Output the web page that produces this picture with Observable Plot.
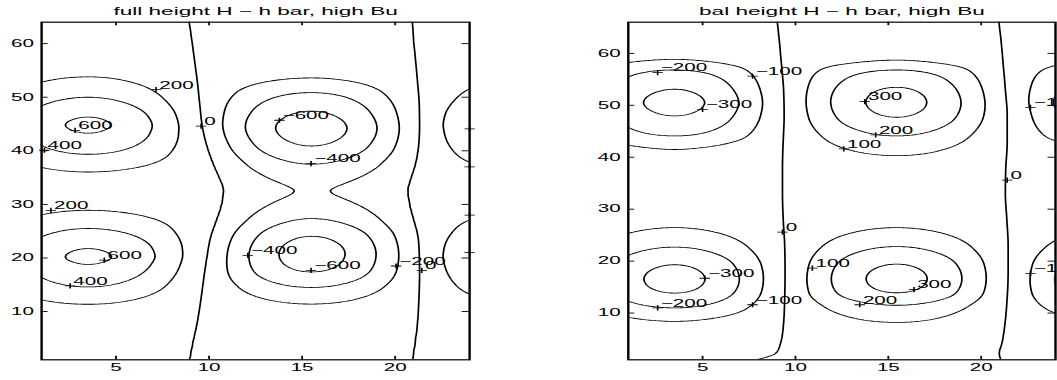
<!DOCTYPE html>
<html>
<head>
<meta charset="utf-8">
<title>H − h bar, high Bu</title>
<script src="https://cdn.jsdelivr.net/npm/d3@7"></script>
<script src="https://cdn.jsdelivr.net/npm/@observablehq/plot@0.6"></script>
<style>
  html, body { margin: 0; padding: 0; background: #fff; }
  #chart { display: flex; width: 1057px; height: 380px; overflow: hidden; background: #fff; }
  #chart svg { display: block; flex: none; }
</style>
</head>
<body>
<div id="chart"></div>
<script>
// ---------------- values ----------------
const xTicks = [5, 10, 15, 20];
const yTicks = [10, 20, 30, 40, 50, 60];

// Left panel: full height H - h bar
const fullTitle = "full height H − h bar, high Bu";
const fullLevels = [-600, -400, -200, 0, 200, 400, 600];
const fullWarmCentreX = 3.5;   // column through the positive centres
const fullColdCentreX = 15.5;  // column through the negative centres
// field along the warm column (y, value), from the contour crossings
const fullWarmY = [1, 8, 11.36, 14.6, 18.8, 20.2, 21.75, 25.5, 28.9, 32.4, 36.05, 39.35, 43.3, 44.8, 46.3, 50.0, 53.8, 58, 64];
const fullWarmV = [10, 65, 200, 400, 600, 630, 600, 400, 200, 110, 200, 400, 600, 630, 600, 400, 200, 70, 25];
// field along the cold column
const fullColdY = [1, 8, 11.4, 14.5, 17.4, 20.8, 24.05, 27.35, 32.5, 37.5, 40.9, 44.2, 47.4, 50.86, 53.6, 58, 64];
const fullColdV = [-40, -85, -200, -400, -600, -680, -600, -400, -210, -400, -600, -690, -600, -400, -200, -80, -45];
// the two zero contours (x position at each y)
const fullZeroY    = [1, 4, 8, 12, 17, 20, 24, 27, 29.5, 32.6, 35, 37, 39.5, 44.5, 48, 52, 56, 60, 64];
const fullZeroWest = [8.97, 9.13, 9.37, 9.55, 9.75, 9.88, 10.1, 10.4, 10.65, 10.79, 10.56, 10.3, 10.02, 9.64, 9.52, 9.4, 9.25, 9.1, 8.94];
const fullZeroEast = [20.91, 21.05, 21.2, 21.27, 21.31, 21.3, 21.22, 21.0, 20.8, 20.68, 20.85, 21.04, 21.2, 21.31, 21.3, 21.22, 21.12, 21.0, 20.91];
// contour labels (clabel "+" positions)
const fullLabelX = [7.15, 2.8, 1.15, 9.57, 13.78, 15.48, 1.5, 4.37, 2.53, 12.08, 15.48, 20.05, 21.43];
const fullLabelY = [51.4, 43.8, 40.1, 44.6, 45.7, 37.6, 28.9, 19.6, 14.8, 20.5, 17.7, 18.5, 17.7];
const fullLabelText = ["200", "600", "400", "0", "−600", "−400", "200", "600", "400", "−400", "−600", "−200", "0"];
const fullEdgeMarkX = [24, 24, 24, 24];
const fullEdgeMarkY = [44.1, 37.0, 28.0, 21.0];

// Right panel: bal height H - h bar
const balTitle = "bal height H − h bar, high Bu";
const balLevels = [-300, -200, -100, 0, 100, 200, 300];
const balColdCentreX = 3.5;    // negative centres
const balWarmCentreX = 15.45;  // positive centres
const balColdY = [1, 8.4, 11.0, 13.85, 16.57, 19.3, 22.7, 26.45, 33.5, 41.5, 44.1, 47.95, 50.5, 53.1, 56.8, 58.85, 66];
const balColdV = [-15, -100, -200, -300, -330, -300, -200, -100, -30, -100, -200, -300, -330, -300, -200, -100, -20];
const balWarmY = [1, 8.2, 11.5, 13.9, 16.6, 19.42, 22.8, 26.45, 33.5, 40.3, 44.1, 47.7, 50.6, 53.46, 56.8, 58.7, 66];
const balWarmV = [15, 100, 200, 300, 330, 300, 200, 100, 30, 100, 200, 300, 330, 300, 200, 100, 20];
const balZeroY    = [1, 2.3, 4, 8, 13, 18, 23, 28, 33, 38, 43, 48, 53, 58, 62, 66];
const balZeroWest = [7.9, 8.95, 9.18, 9.36, 9.42, 9.44, 9.42, 9.34, 9.3, 9.3, 9.34, 9.39, 9.36, 9.24, 9.14, 9.02];
const balZeroEast = [21.05, 20.97, 21.1, 21.28, 21.4, 21.45, 21.45, 21.38, 21.3, 21.32, 21.4, 21.4, 21.3, 21.18, 21.08, 20.95];
const balLabelX = [2.58, 7.69, 5.0, 13.73, 14.32, 12.6, 21.4, 9.3, 10.91, 5.12, 7.69, 2.58, 16.38, 13.46, 22.65, 22.65];
const balLabelY = [56.3, 55.6, 49.2, 50.7, 44.3, 41.6, 35.6, 25.6, 18.65, 16.7, 11.6, 11.0, 14.5, 11.6, 49.6, 17.6];
const balLabelText = ["−200", "−100", "−300", "300", "200", "100", "0", "0", "100", "−300", "−100", "−200", "300", "200", "−100", "−100"];

// ---------------- helpers ----------------
// monotone cubic through read points (no overshoot)
function monotone(X, Y) {
  const n = X.length, h = [], s = [], m = new Array(n);
  for (let i = 0; i < n - 1; i++) { h[i] = X[i + 1] - X[i]; s[i] = (Y[i + 1] - Y[i]) / h[i]; }
  for (let i = 1; i < n - 1; i++) {
    const p = (s[i - 1] * h[i] + s[i] * h[i - 1]) / (h[i - 1] + h[i]);
    m[i] = (Math.sign(s[i - 1]) + Math.sign(s[i])) * Math.min(Math.abs(s[i - 1]), Math.abs(s[i]), 0.5 * Math.abs(p)) || 0;
  }
  m[0] = (3 * s[0] - m[1]) / 2;
  m[n - 1] = (3 * s[n - 2] - m[n - 2]) / 2;
  return (x) => {
    if (x <= X[0]) return Y[0];
    if (x >= X[n - 1]) return Y[n - 1];
    const i = Math.min(n - 2, d3.bisectRight(X, x) - 1);
    const t = (x - X[i]) / h[i], t2 = t * t, t3 = t2 * t;
    return (2 * t3 - 3 * t2 + 1) * Y[i] + (t3 - 2 * t2 + t) * h[i] * m[i]
         + (-2 * t3 + 3 * t2) * Y[i + 1] + (t3 - t2) * h[i] * m[i + 1];
  };
}

// field between the read columns and zero contours (periodic in x, period 24)
function makeField(aY, aV, xa, bY, bV, xb, zY, zW, zE) {
  const A = monotone(aY, aV), B = monotone(bY, bV), W = monotone(zY, zW), E = monotone(zY, zE);
  return (x, y) => {
    const a = A(y), b = B(y), w = W(y), e = E(y);
    let u = x;
    while (u < e - 24) u += 24;
    while (u >= e) u -= 24;
    if (u < w) {
      const hw = u < xa ? xa - (e - 24) : w - xa;
      return a * Math.cos(Math.PI / 2 * Math.min(1, Math.abs(u - xa) / hw));
    }
    const hw = u < xb ? xb - w : e - xb;
    return b * Math.cos(Math.PI / 2 * Math.min(1, Math.abs(u - xb) / hw));
  };
}

function makeGrid(f, x0, x1, y0, y1, dx, dy) {
  const nx = Math.round((x1 - x0) / dx) + 1, ny = Math.round((y1 - y0) / dy) + 1;
  const values = new Array(nx * ny);
  for (let j = 0; j < ny; j++)
    for (let i = 0; i < nx; i++) values[j * nx + i] = f(x0 + i * dx, y0 + j * dy);
  return {values, width: nx, height: ny,
          x1: x0 - dx / 2, x2: x0 + (nx - 0.5) * dx, y1: y0 - dy / 2, y2: y0 + (ny - 0.5) * dy};
}

// MATLAB-style "+" marker
const plusSymbol = {
  draw(context, size) {
    const r = Math.sqrt(size / Math.PI);
    context.moveTo(-r, 0); context.lineTo(r, 0);
    context.moveTo(0, -r); context.lineTo(0, r);
  }
};

const FONT = "'Liberation Sans', Arial, Helvetica, sans-serif";
const H = 380, MT = 21.7, MB = 20.7, SX = 2; // the picture is stretched 2x horizontally

function panel(cfg) {
  const baseW = cfg.realWidth / SX;
  const ml = cfg.frameLeft / SX, mr = (cfg.realWidth - cfg.frameRight) / SX;
  const fw = baseW - ml - mr, fh = H - MT - MB;
  const g = makeGrid(cfg.field, -1, 26, -1, cfg.yDomain[1] + 2, 0.1, 0.2);
  const LX = cfg.labelX, LY = cfg.labelY;
  const marks = [
    Plot.contour(g.values, {
      width: g.width, height: g.height, x1: g.x1, x2: g.x2, y1: g.y1, y2: g.y2,
      value: (d) => d, thresholds: cfg.levels,
      stroke: "black", fill: "none", strokeWidth: 0.85, clip: true
    }),
    Plot.frame({stroke: "black", strokeWidth: 1.2}),
    Plot.tickX(xTicks, {x: (d) => d, insetBottom: fh - 3.5, stroke: "black", strokeWidth: 0.9}),
    Plot.tickX(xTicks, {x: (d) => d, insetTop: fh - 3.5, stroke: "black", strokeWidth: 0.9}),
    Plot.tickY(yTicks, {y: (d) => d, insetRight: fw - 3.5, stroke: "black", strokeWidth: 0.9}),
    Plot.tickY(yTicks, {y: (d) => d, insetLeft: fw - 3.5, stroke: "black", strokeWidth: 0.9}),
    Plot.text(xTicks, {x: (d) => d, text: (d) => `${d}`, frameAnchor: "bottom", lineAnchor: "middle", dy: 8.2, fill: "black"}),
    Plot.text(yTicks, {y: (d) => d, text: (d) => `${d}`, frameAnchor: "left", textAnchor: "end", lineAnchor: "middle", dx: -3.8, fill: "black"}),
    Plot.text([cfg.title], {frameAnchor: "top", lineAnchor: "middle", dy: -11, fontSize: 11.3, fill: "black"}),
    Plot.dot(cfg.labelText, {x: (d, i) => LX[i], y: (d, i) => LY[i], symbol: plusSymbol, r: 2.6,
      stroke: "black", fill: "none", strokeWidth: 0.8}),
    Plot.text(cfg.labelText, {x: (d, i) => LX[i], y: (d, i) => LY[i], text: (d) => d,
      textAnchor: "start", lineAnchor: "middle", dx: 1.6, dy: -4.5, fill: "black"})
  ];
  if (cfg.edgeX) {
    const EX = cfg.edgeX;
    marks.push(Plot.dot(cfg.edgeY, {x: (d, i) => EX[i], y: (d) => d, symbol: plusSymbol, r: 2.6,
      stroke: "black", fill: "none", strokeWidth: 0.8}));
  }
  const svg = Plot.plot({
    width: baseW, height: H,
    marginTop: MT, marginBottom: MB, marginLeft: ml, marginRight: mr,
    x: {domain: [1, 24], axis: null},
    y: {domain: cfg.yDomain, axis: null},
    style: {fontFamily: FONT, fontSize: "10.3px", color: "black", background: "white", overflow: "hidden"},
    marks
  });
  svg.setAttribute("width", cfg.realWidth);
  svg.setAttribute("height", H);
  svg.setAttribute("viewBox", `0 0 ${baseW} ${H}`);
  svg.setAttribute("preserveAspectRatio", "none");
  svg.style.width = cfg.realWidth + "px";
  svg.style.height = H + "px";
  svg.style.maxWidth = "none";
  return svg;
}

const chart = document.getElementById("chart");
chart.appendChild(panel({
  title: fullTitle, levels: fullLevels, yDomain: [1, 64],
  realWidth: 540, frameLeft: 40.6, frameRight: 468.6,
  field: makeField(fullWarmY, fullWarmV, fullWarmCentreX, fullColdY, fullColdV, fullColdCentreX,
                   fullZeroY, fullZeroWest, fullZeroEast),
  labelX: fullLabelX, labelY: fullLabelY, labelText: fullLabelText,
  edgeX: fullEdgeMarkX, edgeY: fullEdgeMarkY
}));
chart.appendChild(panel({
  title: balTitle, levels: balLevels, yDomain: [1, 66],
  realWidth: 517, frameLeft: 87.3, frameRight: 514.5,
  field: makeField(balColdY, balColdV, balColdCentreX, balWarmY, balWarmV, balWarmCentreX,
                   balZeroY, balZeroWest, balZeroEast),
  labelX: balLabelX, labelY: balLabelY, labelText: balLabelText
}));
</script>
</body>
</html>
